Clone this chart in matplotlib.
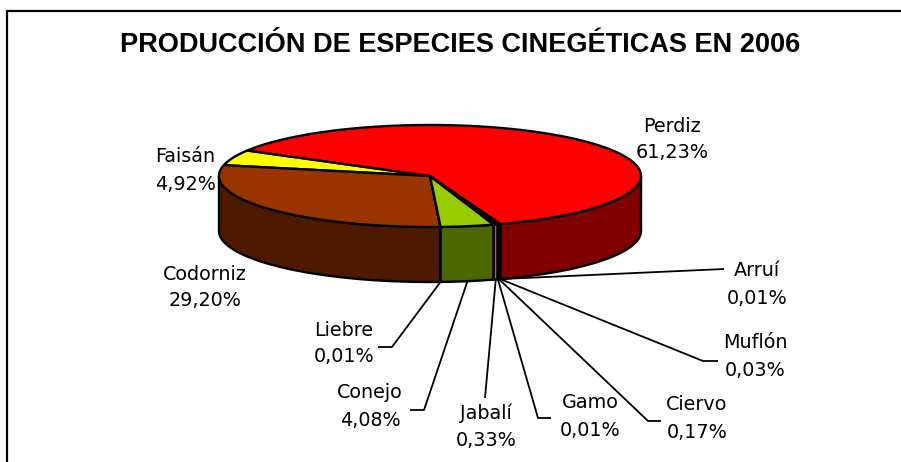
import numpy as np
import matplotlib
matplotlib.use("Agg")
import matplotlib.pyplot as plt
from matplotlib.patches import Polygon

# ---- data (counter-clockwise order as drawn) ----
species = ["Faisán", "Codorniz", "Liebre", "Conejo", "Jabalí", "Gamo",
           "Ciervo", "Muflón", "Arruí", "Perdiz"]
values = [4.92, 29.20, 0.01, 4.08, 0.33, 0.01, 0.17, 0.03, 0.01, 61.23]
title = "PRODUCCIÓN DE ESPECIES CINEGÉTICAS EN 2006"

top_colors = ["#FFFF00", "#993300", "#CCCCCC", "#99CC00", "#CC9999", "#CCCCCC",
              "#99BBBB", "#CCCCCC", "#CCCCCC", "#FF0000"]
side_colors = ["#808000", "#4D1A00", "#666666", "#4D6600", "#9A6666", "#666666",
               "#6E8A8A", "#666666", "#666666", "#800000"]

# label layout (text centres, pixels) and leader-line elbows
label_pos = {
    "Perdiz": (672, 126), "Faisán": (185, 157), "Codorniz": (205, 274),
    "Arruí": (757, 271), "Muflón": (755, 343), "Ciervo": (697, 405),
    "Gamo": (590, 403), "Jabalí": (486, 413), "Conejo": (370, 393),
    "Liebre": (344, 330),
}
leaders = {
    "Arruí": [(724, 269)],
    "Muflón": [(718, 361), (703, 361)],
    "Ciervo": [(661, 421), (648, 421)],
    "Gamo": [(551, 418), (538, 418)],
    "Jabalí": [(485, 398)],
    "Conejo": [(410, 410), (424, 410)],
    "Liebre": [(378, 347), (392, 347)],
}

# ---- geometry ----
W, H = 901, 462
cx, cy, rx, ry, depth = 430, 176, 211, 51, 55
start = 150.0

fig = plt.figure(figsize=(W / 100, H / 100), dpi=100)
ax = fig.add_axes([0, 0, 1, 1])
ax.set_xlim(0, W)
ax.set_ylim(H, 0)
ax.axis("off")

def pt(t, dz=0.0):
    r = np.radians(t)
    return cx + rx * np.cos(r), cy - ry * np.sin(r) + dz

angles = np.cumsum([0] + [v / sum(values) * 360 for v in values]) + start
lw = 1.7

# side walls (front half: 180..360 deg, also 540..720)
for i, (a, b) in enumerate(zip(angles[:-1], angles[1:])):
    for lo, hi in [(180, 360), (540, 720)]:
        s, e = max(a, lo), min(b, hi)
        if e <= s:
            continue
        ts = np.linspace(s, e, max(2, int((e - s) * 2)))
        topc = [pt(t) for t in ts]
        botc = [pt(t, depth) for t in ts[::-1]]
        ax.add_patch(Polygon(topc + botc, closed=True, facecolor=side_colors[i],
                             edgecolor="black", lw=lw, joinstyle="round"))

# top faces
for i, (a, b) in enumerate(zip(angles[:-1], angles[1:])):
    ts = np.linspace(a, b, max(2, int((b - a) * 2)))
    poly = [(cx, cy)] + [pt(t) for t in ts]
    ax.add_patch(Polygon(poly, closed=True, facecolor=top_colors[i],
                         edgecolor="black", lw=lw, joinstyle="round"))

# labels
fkw = dict(family="DejaVu Sans", fontsize=13.8, ha="center", va="center")
for i, name in enumerate(species):
    x, y = label_pos[name]
    pct = f"{values[i]:.2f}".replace(".", ",") + "%"
    ax.text(x, y, name, **fkw)
    ax.text(x, y + 27, pct, **fkw)
    if name in leaders:
        mid = (angles[i] + angles[i + 1]) / 2
        px, py = pt(mid, depth)
        pts = leaders[name] + [(px, py)]
        xs, ys = zip(*pts)
        ax.plot(xs, ys, color="black", lw=1.3, solid_capstyle="butt")

# title
ax.text(460, 45, title, family="Liberation Sans", fontweight="bold",
        fontsize=19.5, ha="center", va="center")

# chart border (left and top visible)
ax.plot([7, 7, W], [H, 11, 11], color="black", lw=1.6, solid_joinstyle="miter")

fig.savefig("out.png", dpi=100)
